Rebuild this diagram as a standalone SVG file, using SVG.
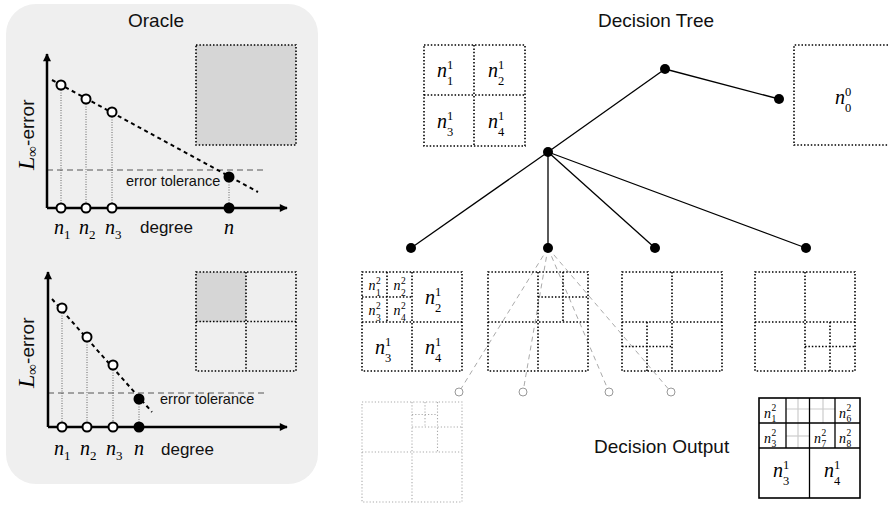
<svg xmlns="http://www.w3.org/2000/svg" width="888" height="508" viewBox="0 0 888 508">
<defs>
<marker id="ah" viewBox="0 0 10 10" refX="9" refY="5" markerWidth="10" markerHeight="8" markerUnits="userSpaceOnUse" orient="auto">
<path d="M0,0 L10,5 L0,10 z" fill="#000"/>
</marker>
<style>
.ttl{font-family:"Liberation Sans",Arial,sans-serif;font-size:19px;fill:#111}
.sans{font-family:"Liberation Sans",Arial,sans-serif;fill:#111}
.ni{font-family:"Liberation Serif","Times New Roman",serif;font-style:italic;font-size:20px;fill:#000}
.nd{font-family:"Liberation Serif","Times New Roman",serif;font-size:12.5px;fill:#000}
.si{font-family:"Liberation Serif","Times New Roman",serif;font-style:italic;font-size:14px;fill:#000}
.sd{font-family:"Liberation Serif","Times New Roman",serif;font-size:9.5px;fill:#000}
.ax{stroke:#000;stroke-width:2.5;fill:none}
.dot{stroke:#000;stroke-width:1.6;stroke-dasharray:1.5 1.9;fill:none}
.fdot{stroke:#aaa;stroke-width:1.1;stroke-dasharray:1.2 2;fill:none}
.vdot{stroke:#666;stroke-width:1;stroke-dasharray:1 1.5;fill:none}
.trend{stroke:#000;stroke-width:2;stroke-dasharray:4 3.5;fill:none}
.tol{stroke:#555;stroke-width:1;stroke-dasharray:6 4;fill:none}
.op{fill:#fff;stroke:#000;stroke-width:2}
.fp{fill:#000}
.edge{stroke:#000;stroke-width:1.3;fill:none}
.gedge{stroke:#aaa;stroke-width:1;stroke-dasharray:5 4;fill:none}
.gc{fill:#fff;stroke:#999;stroke-width:1}
.sol{stroke:#000;stroke-width:1.3;fill:none}
.lg{stroke:#ccc;stroke-width:1.2;fill:none}
</style>
</defs>

<!-- Oracle panel -->
<g id="oracle">
<rect x="6" y="4" width="312" height="480" rx="30" ry="30" fill="#efefef"/>
<text class="ttl" x="156" y="27" text-anchor="middle">Oracle</text>

<!-- top plot -->
<g id="oracle-plot-1">
<rect x="196" y="45" width="100" height="100" fill="#d6d6d6"/>
<rect x="196" y="45" width="100" height="100" class="dot"/>
<line class="vdot" x1="61" y1="85" x2="61" y2="208"/>
<line class="vdot" x1="86" y1="99" x2="86" y2="208"/>
<line class="vdot" x1="112" y1="112" x2="112" y2="208"/>
<line class="vdot" x1="229" y1="177" x2="229" y2="208"/>
<line class="tol" x1="47" y1="170" x2="264" y2="170"/>
<line class="trend" x1="52" y1="80" x2="258" y2="192"/>
<line class="ax" x1="47" y1="208" x2="47" y2="54" marker-end="url(#ah)"/>
<line class="ax" x1="47" y1="208" x2="287" y2="208" marker-end="url(#ah)"/>
<circle class="op" cx="61" cy="85" r="4.5"/>
<circle class="op" cx="86" cy="99" r="4.5"/>
<circle class="op" cx="112" cy="112" r="4.5"/>
<circle class="fp" cx="229" cy="177" r="5.5"/>
<circle class="op" cx="61" cy="208" r="4.5"/>
<circle class="op" cx="86" cy="208" r="4.5"/>
<circle class="op" cx="112" cy="208" r="4.5"/>
<circle class="fp" cx="229" cy="208" r="5.5"/>
<text class="sans" x="126" y="186" font-size="14.5">error tolerance</text>
<text transform="translate(34,170) rotate(-90)"><tspan class="ni" style="font-size:24px">L</tspan><tspan class="nd" style="font-size:15px" dy="3">∞</tspan><tspan class="sans" style="font-size:19px" dy="-3">-error</tspan></text>
<text><tspan class="ni" x="54" y="234">n</tspan><tspan class="nd" style="font-size:13px" x="64" y="239">1</tspan></text>
<text><tspan class="ni" x="79" y="234">n</tspan><tspan class="nd" style="font-size:13px" x="89" y="239">2</tspan></text>
<text><tspan class="ni" x="105" y="234">n</tspan><tspan class="nd" style="font-size:13px" x="115" y="239">3</tspan></text>
<text class="sans" x="140" y="233" font-size="17">degree</text>
<text class="ni" x="224" y="234">n</text>
</g>

<!-- bottom plot -->
<g id="oracle-plot-2">
<rect x="196" y="272" width="50" height="50" fill="#d6d6d6"/>
<rect x="196" y="272" width="100" height="99" class="dot"/>
<line class="dot" x1="246" y1="272" x2="246" y2="371"/>
<line class="dot" x1="196" y1="321.5" x2="296" y2="321.5"/>
<line class="vdot" x1="62" y1="308" x2="62" y2="427"/>
<line class="vdot" x1="87" y1="337" x2="87" y2="427"/>
<line class="vdot" x1="113" y1="365" x2="113" y2="427"/>
<line class="vdot" x1="139" y1="399" x2="139" y2="427"/>
<line class="tol" x1="48" y1="393" x2="264" y2="393"/>
<line class="trend" x1="52" y1="299" x2="152" y2="412"/>
<line class="ax" x1="48" y1="427" x2="48" y2="272" marker-end="url(#ah)"/>
<line class="ax" x1="48" y1="427" x2="287" y2="427" marker-end="url(#ah)"/>
<circle class="op" cx="62" cy="308" r="4.5"/>
<circle class="op" cx="87" cy="337" r="4.5"/>
<circle class="op" cx="113" cy="365" r="4.5"/>
<circle class="fp" cx="139" cy="399" r="5.5"/>
<circle class="op" cx="62" cy="427" r="4.5"/>
<circle class="op" cx="87" cy="427" r="4.5"/>
<circle class="op" cx="113" cy="427" r="4.5"/>
<circle class="fp" cx="139" cy="427" r="5.5"/>
<text class="sans" x="160" y="404" font-size="14.5">error tolerance</text>
<text transform="translate(34,388) rotate(-90)"><tspan class="ni" style="font-size:24px">L</tspan><tspan class="nd" style="font-size:15px" dy="3">∞</tspan><tspan class="sans" style="font-size:19px" dy="-3">-error</tspan></text>
<text><tspan class="ni" x="54" y="455">n</tspan><tspan class="nd" style="font-size:13px" x="64" y="460">1</tspan></text>
<text><tspan class="ni" x="80" y="455">n</tspan><tspan class="nd" style="font-size:13px" x="90" y="460">2</tspan></text>
<text><tspan class="ni" x="106" y="455">n</tspan><tspan class="nd" style="font-size:13px" x="116" y="460">3</tspan></text>
<text class="ni" x="134" y="455">n</text>
<text class="sans" x="161" y="455" font-size="17">degree</text>
</g>
</g>

<text class="ttl" x="656" y="27" text-anchor="middle">Decision Tree</text>

<!-- connectors -->
<g id="connectors">
<line class="edge" x1="665" y1="69" x2="779" y2="99"/>
<line class="edge" x1="665" y1="69" x2="548" y2="152"/>
<line class="edge" x1="548" y1="152" x2="411" y2="248"/>
<line class="edge" x1="548" y1="152" x2="548" y2="248"/>
<line class="edge" x1="548" y1="152" x2="655" y2="248"/>
<line class="edge" x1="548" y1="152" x2="806" y2="248"/>
<line class="gedge" x1="548" y1="248" x2="459" y2="392"/>
<line class="gedge" x1="548" y1="248" x2="523" y2="392"/>
<line class="gedge" x1="548" y1="248" x2="609" y2="392"/>
<line class="gedge" x1="548" y1="248" x2="671" y2="392"/>
</g>

<!-- tree nodes -->
<g id="node-root"><circle class="fp" cx="665" cy="69" r="5"/></g>
<g id="node-leaf0"><circle class="fp" cx="779" cy="99" r="5"/></g>
<g id="node-split"><circle class="fp" cx="548" cy="152" r="5"/></g>
<g id="node-c1"><circle class="fp" cx="411" cy="248" r="5"/></g>
<g id="node-c2"><circle class="fp" cx="548" cy="248" r="5"/></g>
<g id="node-c3"><circle class="fp" cx="655" cy="248" r="5"/></g>
<g id="node-c4"><circle class="fp" cx="806" cy="248" r="5"/></g>
<g id="node-g1"><circle class="gc" cx="459" cy="392" r="4"/></g>
<g id="node-g2"><circle class="gc" cx="523" cy="392" r="4"/></g>
<g id="node-g3"><circle class="gc" cx="609" cy="392" r="4"/></g>
<g id="node-g4"><circle class="gc" cx="671" cy="392" r="4"/></g>

<!-- grid: level 1 partition -->
<g id="grid-level1">
<rect class="dot" x="424" y="45" width="101" height="101"/>
<line class="dot" x1="474" y1="45" x2="474" y2="146"/>
<line class="dot" x1="424" y1="95" x2="525" y2="95"/>
<text><tspan class="ni" x="437" y="77">n</tspan><tspan class="nd" x="447" y="69">1</tspan><tspan class="nd" x="447" y="85">1</tspan></text>
<text><tspan class="ni" x="488" y="77">n</tspan><tspan class="nd" x="498" y="69">1</tspan><tspan class="nd" x="498" y="85">2</tspan></text>
<text><tspan class="ni" x="437" y="128">n</tspan><tspan class="nd" x="447" y="120">1</tspan><tspan class="nd" x="447" y="136">3</tspan></text>
<text><tspan class="ni" x="488" y="128">n</tspan><tspan class="nd" x="498" y="120">1</tspan><tspan class="nd" x="498" y="136">4</tspan></text>
</g>

<!-- grid: level 0 -->
<g id="grid-level0">
<path class="dot" d="M888,45 H794 V145 H888"/>
<text><tspan class="ni" x="835" y="104">n</tspan><tspan class="nd" x="845" y="96">0</tspan><tspan class="nd" x="845" y="112">0</tspan></text>
</g>

<!-- child grid 1 -->
<g id="grid-c1">
<rect class="dot" x="362" y="272" width="100" height="99"/>
<line class="dot" x1="412" y1="272" x2="412" y2="371"/>
<line class="dot" x1="362" y1="322" x2="462" y2="322"/>
<line class="dot" x1="387" y1="272" x2="387" y2="322"/>
<line class="dot" x1="362" y1="297" x2="412" y2="297"/>
<text><tspan class="si" x="368.5" y="290">n</tspan><tspan class="sd" x="376" y="283.5">2</tspan><tspan class="sd" x="376" y="296">1</tspan></text>
<text><tspan class="si" x="393.5" y="290">n</tspan><tspan class="sd" x="401" y="283.5">2</tspan><tspan class="sd" x="401" y="296">2</tspan></text>
<text><tspan class="si" x="368.5" y="315">n</tspan><tspan class="sd" x="376" y="308.5">2</tspan><tspan class="sd" x="376" y="321">3</tspan></text>
<text><tspan class="si" x="393.5" y="315">n</tspan><tspan class="sd" x="401" y="308.5">2</tspan><tspan class="sd" x="401" y="321">4</tspan></text>
<text><tspan class="ni" x="425" y="304">n</tspan><tspan class="nd" x="435" y="296">1</tspan><tspan class="nd" x="435" y="312">2</tspan></text>
<text><tspan class="ni" x="375" y="354">n</tspan><tspan class="nd" x="385" y="346">1</tspan><tspan class="nd" x="385" y="362">3</tspan></text>
<text><tspan class="ni" x="425" y="354">n</tspan><tspan class="nd" x="435" y="346">1</tspan><tspan class="nd" x="435" y="362">4</tspan></text>
</g>

<!-- child grid 2 -->
<g id="grid-c2">
<rect class="dot" x="488" y="272" width="100" height="99"/>
<line class="dot" x1="538" y1="272" x2="538" y2="371"/>
<line class="dot" x1="488" y1="322" x2="588" y2="322"/>
<line class="dot" x1="563" y1="272" x2="563" y2="322"/>
<line class="dot" x1="538" y1="297" x2="588" y2="297"/>
</g>

<!-- child grid 3 -->
<g id="grid-c3">
<rect class="dot" x="622" y="272" width="100" height="99"/>
<line class="dot" x1="672" y1="272" x2="672" y2="371"/>
<line class="dot" x1="622" y1="322" x2="722" y2="322"/>
<line class="dot" x1="647" y1="322" x2="647" y2="371"/>
<line class="dot" x1="622" y1="346.5" x2="672" y2="346.5"/>
</g>

<!-- child grid 4 -->
<g id="grid-c4">
<rect class="dot" x="755" y="272" width="100" height="99"/>
<line class="dot" x1="805" y1="272" x2="805" y2="371"/>
<line class="dot" x1="755" y1="322" x2="855" y2="322"/>
<line class="dot" x1="830" y1="322" x2="830" y2="371"/>
<line class="dot" x1="805" y1="346.5" x2="855" y2="346.5"/>
</g>

<!-- faded grid -->
<g id="grid-faded">
<rect class="fdot" x="362" y="402" width="100" height="100"/>
<line class="fdot" x1="412" y1="402" x2="412" y2="502"/>
<line class="fdot" x1="362" y1="452" x2="462" y2="452"/>
<line class="fdot" x1="437.5" y1="402" x2="437.5" y2="452"/>
<line class="fdot" x1="412" y1="427" x2="462" y2="427"/>
<line class="fdot" x1="425" y1="402" x2="425" y2="427"/>
<line class="fdot" x1="412" y1="414.5" x2="437.5" y2="414.5"/>
</g>

<!-- decision output -->
<g id="decision-output">
<text class="ttl" x="594" y="453">Decision Output</text>
<line class="lg" x1="798" y1="398" x2="798" y2="448"/>
<line class="lg" x1="786" y1="409" x2="835" y2="409"/>
<line class="lg" x1="786" y1="436" x2="809" y2="436"/>
<line class="lg" x1="823" y1="398" x2="823" y2="423"/>
<rect x="759" y="398" width="101" height="100" fill="none" stroke="#000" stroke-width="1.6"/>
<line class="sol" x1="809.5" y1="398" x2="809.5" y2="498"/>
<line class="sol" x1="759" y1="448" x2="860" y2="448"/>
<line class="sol" x1="759" y1="423" x2="860" y2="423"/>
<line class="sol" x1="786" y1="398" x2="786" y2="448"/>
<line class="sol" x1="835" y1="398" x2="835" y2="448"/>
<text><tspan class="si" x="764" y="418">n</tspan><tspan class="sd" x="771.5" y="411">2</tspan><tspan class="sd" x="771.5" y="422">1</tspan></text>
<text><tspan class="si" x="764" y="443">n</tspan><tspan class="sd" x="771.5" y="436">2</tspan><tspan class="sd" x="771.5" y="447">3</tspan></text>
<text><tspan class="si" x="839" y="418">n</tspan><tspan class="sd" x="846.5" y="411">2</tspan><tspan class="sd" x="846.5" y="422">6</tspan></text>
<text><tspan class="si" x="814" y="443">n</tspan><tspan class="sd" x="821.5" y="436">2</tspan><tspan class="sd" x="821.5" y="447">7</tspan></text>
<text><tspan class="si" x="839" y="443">n</tspan><tspan class="sd" x="846.5" y="436">2</tspan><tspan class="sd" x="846.5" y="447">8</tspan></text>
<text><tspan class="ni" x="773" y="477">n</tspan><tspan class="nd" x="783" y="469">1</tspan><tspan class="nd" x="783" y="485">3</tspan></text>
<text><tspan class="ni" x="824" y="477">n</tspan><tspan class="nd" x="834" y="469">1</tspan><tspan class="nd" x="834" y="485">4</tspan></text>
</g>
</svg>
